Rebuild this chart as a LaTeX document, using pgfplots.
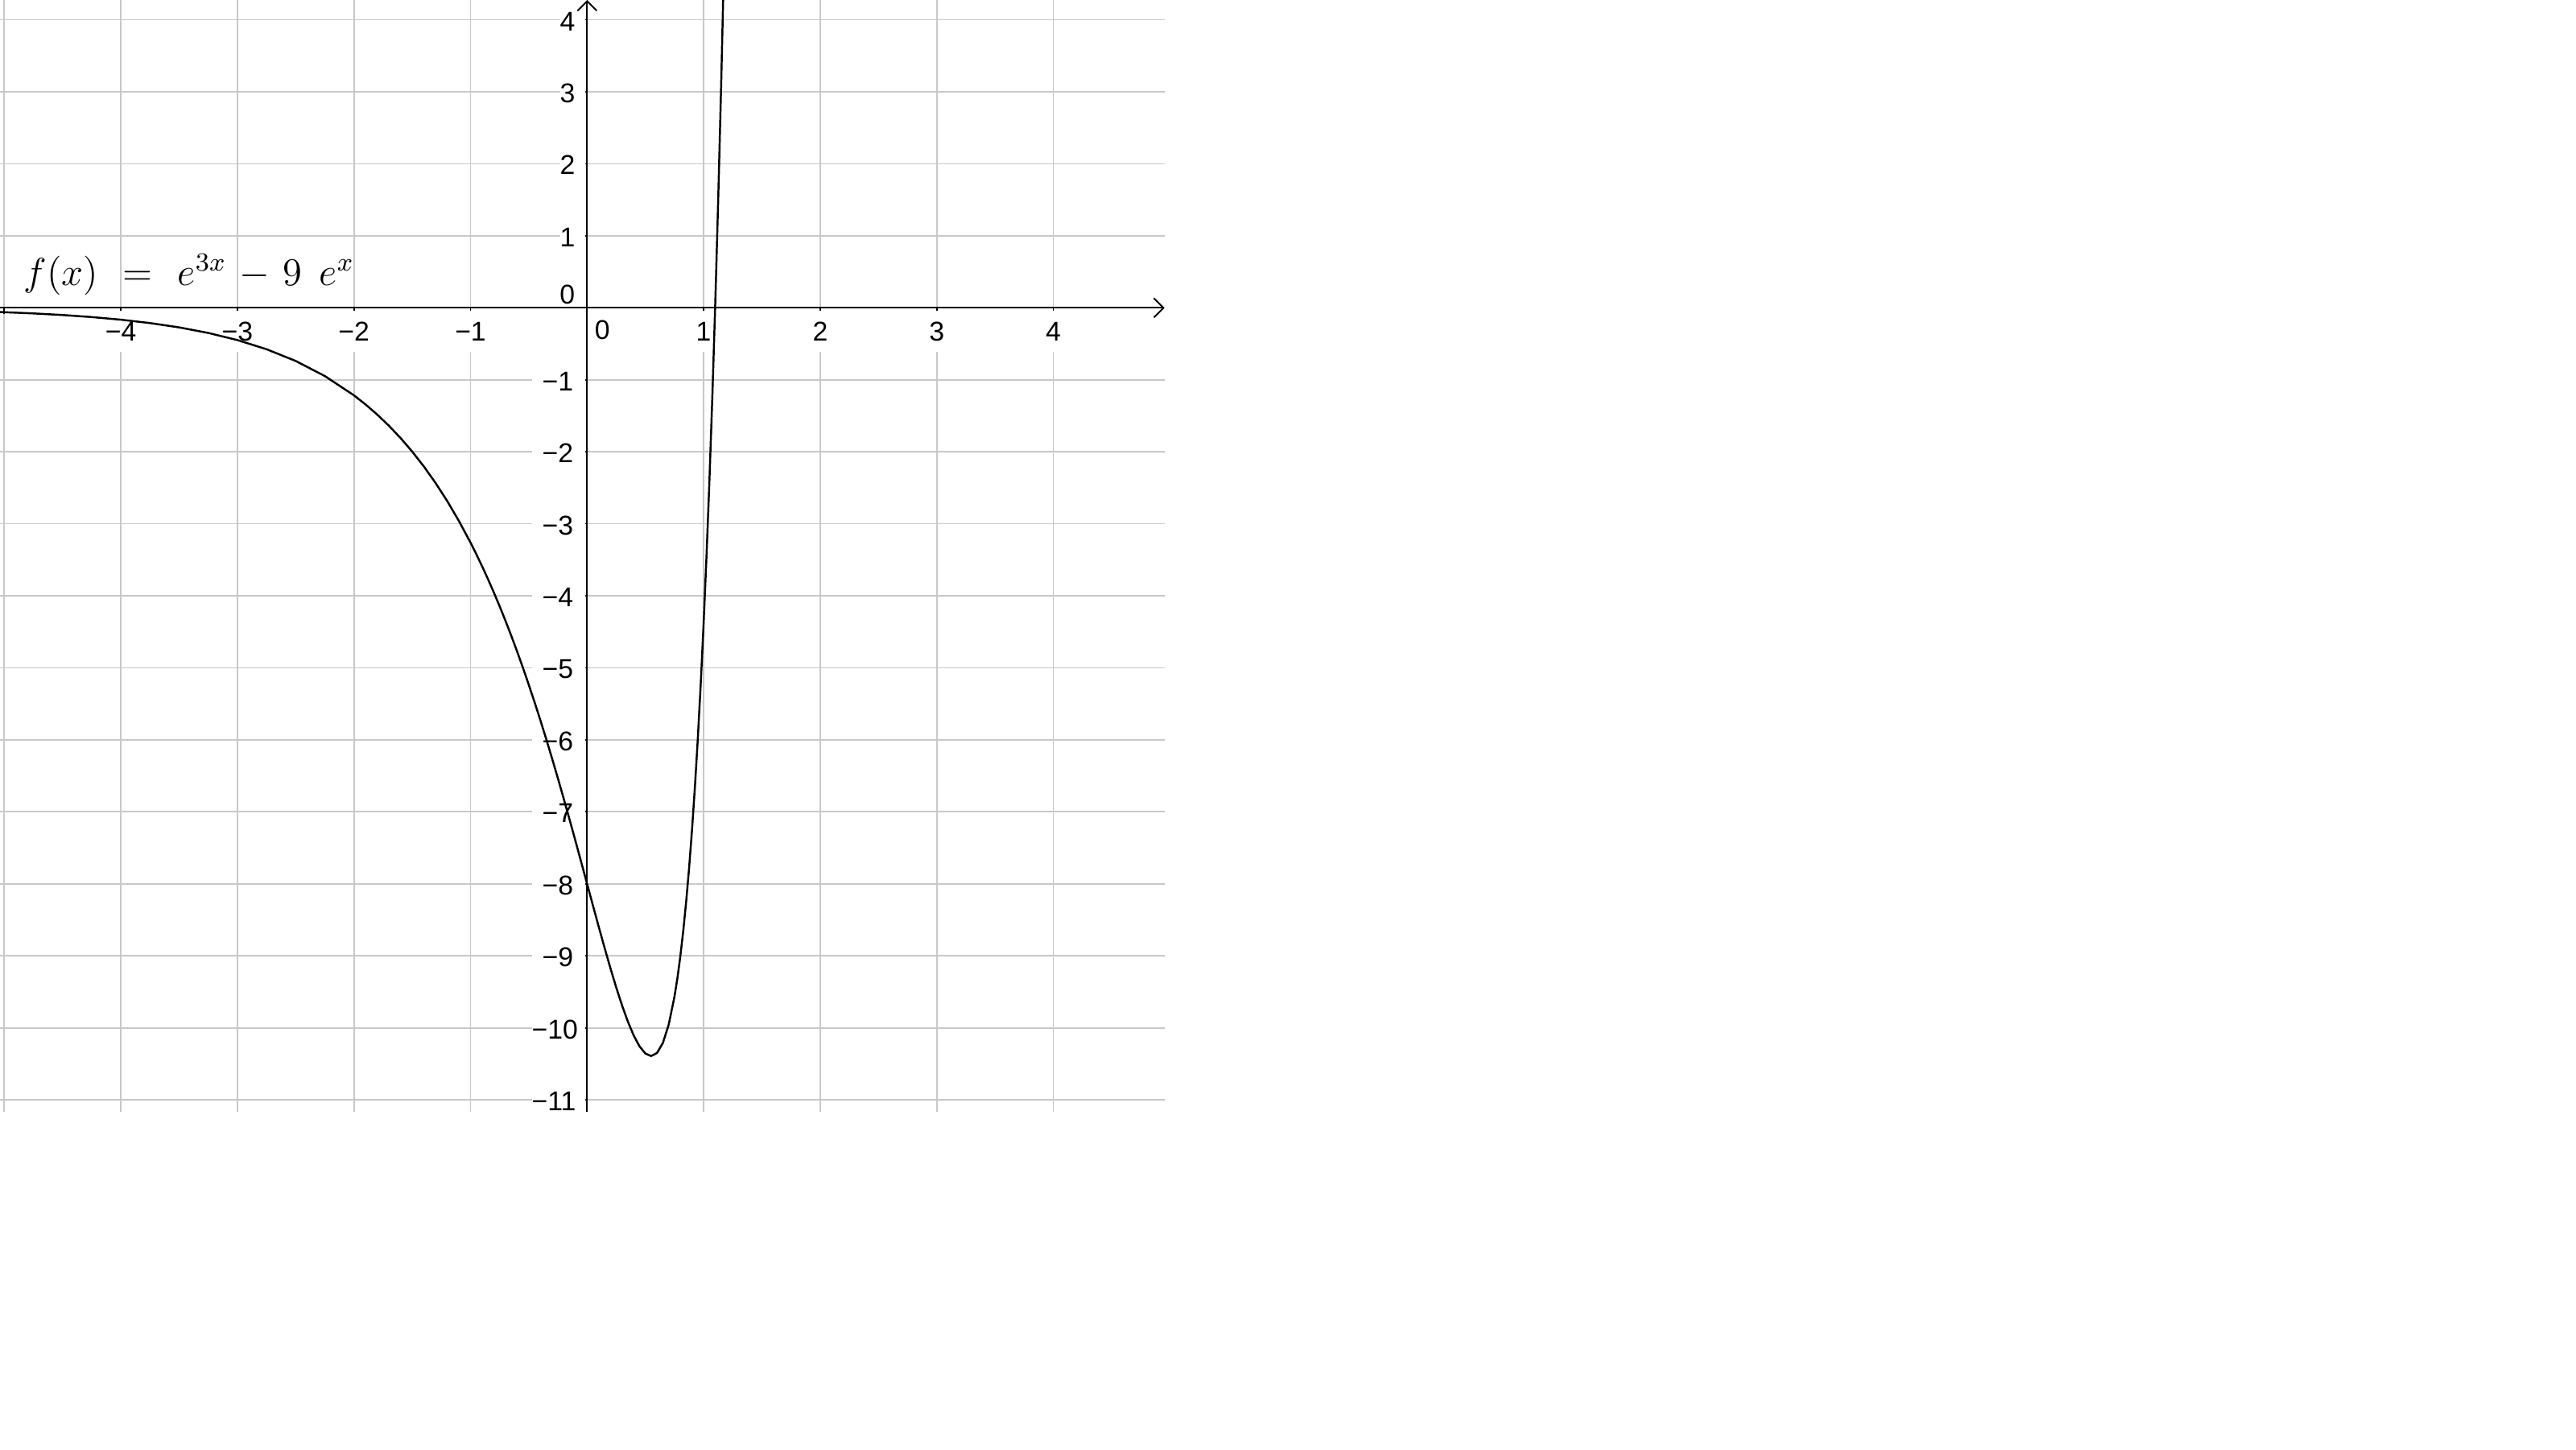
\documentclass[border=0pt]{standalone}
\usepackage{pgfplots}
\pgfplotsset{compat=1.18}
\usepackage{fontspec}
\setmainfont{Liberation Sans}
\usetikzlibrary{arrows.meta}
\definecolor{gridc}{RGB}{200,200,200}
\newcommand{\tl}{\fontsize{9.6}{11}\selectfont}
\newcommand{\gap}{\rule{1.45mm}{0pt}}
\tikzset{
  xlab/.style={anchor=north, yshift=-0.3mm, minimum height=5.1mm, inner xsep=0.5mm, inner ysep=0pt, fill=white, font=\tl},
  ylabn/.style={anchor=base east, xshift=-0.2mm, yshift=-1.35mm, text width=6.6mm, align=right, inner sep=0pt, fill=white, font=\tl},
  ylabp/.style={anchor=base east, xshift=-0.2mm, yshift=-1.35mm, text width=3.1mm, align=right, inner sep=0pt, fill=white, font=\tl},
}
\begin{document}
\begin{tikzpicture}
\useasboundingbox (0,0) rectangle (320mm,-180mm);
\fill[white] (0,0) rectangle (320mm,-180mm);
\begin{axis}[
  at={(0mm,0mm)}, anchor=north west,
  scale only axis, width=144.67mm, height=138.07mm,
  xmin=-5.0366, xmax=4.9545, ymin=-11.164, ymax=4.275,
  axis lines=middle,
  axis line style={line width=0.55pt, -{Straight Barb[length=1.2mm,width=2.4mm]}},
  every inner x axis line/.append style={-{Straight Barb[length=1.2mm,width=2.4mm]}},
  every inner y axis line/.append style={-{Straight Barb[length=1.2mm,width=2.4mm]}},
  xtick={-5,...,4}, ytick={-11,...,4},
  xticklabels={}, yticklabels={},
  grid=major, grid style={gridc, line width=0.5pt},
  tick style={black, line width=0.5pt},
  major tick length=0.8mm, tick align=outside,
]
\node[xlab] at (axis cs:-4,0) {−4};
\node[xlab] at (axis cs:-3,0) {−3};
\node[xlab] at (axis cs:-2,0) {−2};
\node[xlab] at (axis cs:-1,0) {−1};
\node[xlab] at (axis cs:1,0) {1};
\node[xlab] at (axis cs:2,0) {2};
\node[xlab] at (axis cs:3,0) {3};
\node[xlab] at (axis cs:4,0) {4};
\node[anchor=center, xshift=1.9mm, yshift=-2.8mm, inner sep=0pt, font=\tl] at (axis cs:0,0) {0};
\node[anchor=base east, xshift=-1.45mm, yshift=0.5mm, inner sep=0pt, font=\tl] at (axis cs:0,0) {0};
\node[ylabp] at (axis cs:0,4) {4\gap};
\node[ylabp] at (axis cs:0,3) {3\gap};
\node[ylabp] at (axis cs:0,2) {2\gap};
\node[ylabp] at (axis cs:0,1) {1\gap};
\node[ylabn] at (axis cs:0,-1) {−1\gap};
\node[ylabn] at (axis cs:0,-2) {−2\gap};
\node[ylabn] at (axis cs:0,-3) {−3\gap};
\node[ylabn] at (axis cs:0,-4) {−4\gap};
\node[ylabn] at (axis cs:0,-5) {−5\gap};
\node[ylabn] at (axis cs:0,-6) {−6\gap};
\node[ylabn] at (axis cs:0,-7) {−7\gap};
\node[ylabn] at (axis cs:0,-8) {−8\gap};
\node[ylabn] at (axis cs:0,-9) {−9\gap};
\node[ylabn] at (axis cs:0,-10) {−10\gap};
\node[ylabn] at (axis cs:0,-11) {−11\gap};
\node[anchor=base west, inner sep=0pt, scale=1.15, xshift=2.5mm, yshift=2.43mm, font=\fontsize{12}{14}\selectfont] at (axis cs:-5.0366,0) {$f(x)\mskip6.5mu=\mskip6.5mu e^{3x}\mskip2mu-\mskip2mu 9\mskip8mu e^{x}$};
\addplot[black, line width=0.7pt, mark=none] coordinates {
(-5.04,-0.05827) (-4.75,-0.07787) (-4.5,-0.09998) (-4.25,-0.12838) (-4,-0.16484)
(-3.75,-0.21165) (-3.5,-0.27175) (-3.25,-0.34891) (-3,-0.44796) (-2.75,-0.57509)
(-2.5,-0.73822) (-2.25,-0.94742) (-2,-1.21554) (-1.9,-1.34277) (-1.8,-1.48317)
(-1.7,-1.63806) (-1.6,-1.80884) (-1.5,-1.99706) (-1.4,-2.20437) (-1.3,-2.43255)
(-1.2,-2.68343) (-1.1,-2.95896) (-1.0,-3.26112) (-0.95,-3.42283) (-0.9,-3.59192)
(-0.85,-3.76865) (-0.8,-3.95324) (-0.75,-4.14590) (-0.7,-4.34681) (-0.65,-4.55614)
(-0.6,-4.77401) (-0.55,-5.00050) (-0.5,-5.23565) (-0.45,-5.47941) (-0.4,-5.73169)
(-0.35,-5.99225) (-0.3,-6.26079) (-0.25,-6.53684) (-0.2,-6.81977) (-0.15,-7.10874)
(-0.1,-7.40271) (-0.05,-7.70035) (0,-8) (0.05,-8.29961) (0.1,-8.59668)
(0.15,-8.88820) (0.2,-9.17050) (0.25,-9.43923) (0.3,-9.68913) (0.35,-9.91396)
(0.4,-10.10631) (0.45,-10.25738) (0.5,-10.35680) (0.5493,-10.39230) (0.6,-10.34942)
(0.65,-10.21118) (0.7,-9.95761) (0.75,-9.56526) (0.775,-9.30976) (0.8,-9.00669)
(0.825,-8.65523) (0.85,-8.24972) (0.875,-7.78531) (0.9,-7.25670) (0.925,-6.65819)
(0.95,-5.98361) (0.975,-5.22628) (1.0,-4.37900) (1.025,-3.43400) (1.05,-2.38280)
(1.075,-1.21638) (1.1,0.07514) (1.125,1.50232) (1.15,3.07665) (1.175,4.81049)
(1.2,6.71718)
};
\end{axis}
\end{tikzpicture}
\end{document}
